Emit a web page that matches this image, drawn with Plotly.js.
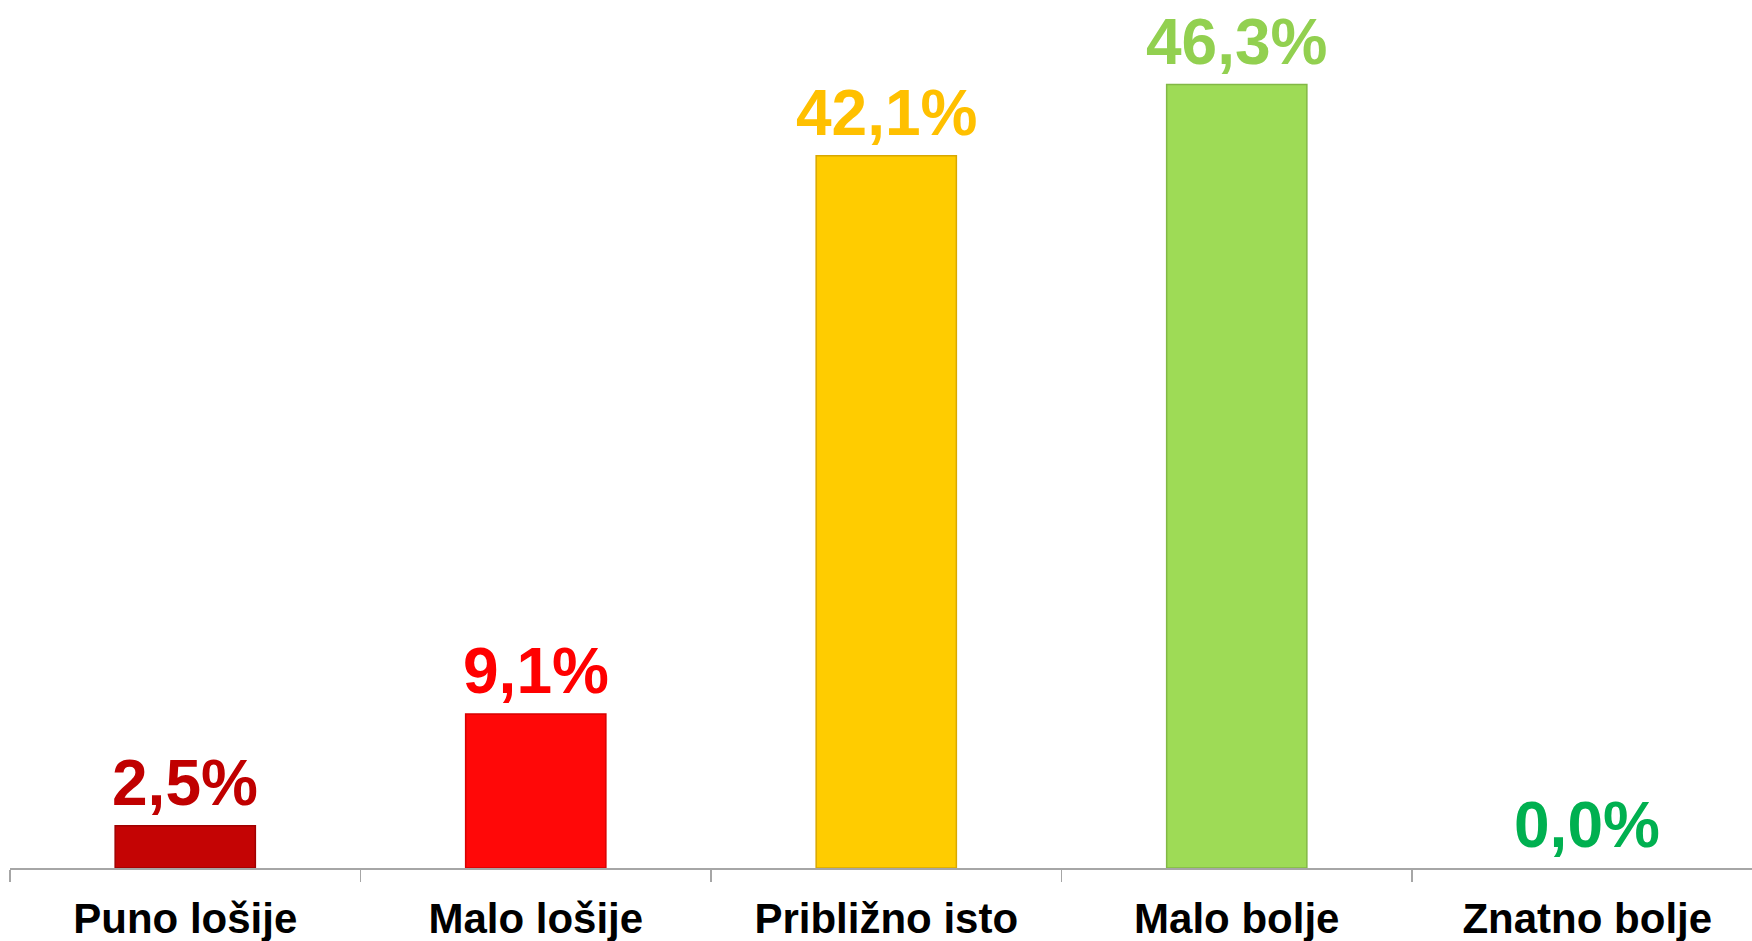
<!DOCTYPE html>
<html>
<head>
<meta charset="utf-8">
<script src="https://cdn.plot.ly/plotly-3.0.1.min.js"></script>
<style>
  html, body { margin: 0; padding: 0; background: #ffffff; }
  #chart { width: 1752px; height: 941px; }
</style>
</head>
<body>
<div id="chart"></div>
<script>
const categories = ['Puno lošije', 'Malo lošije', 'Približno isto', 'Malo bolje', 'Znatno bolje'];
const values = [2.5, 9.1, 42.1, 46.3, 0.0];
const barColors = ['#c40404', '#ff0808', '#ffcc00', '#9edb56', '#00b050'];
const barLineColors = ['#a00000', '#d80000', '#d9a800', '#82b845', 'rgba(0,0,0,0)'];
const labelColors = ['#c00000', '#ff0000', '#ffc000', '#92d050', '#00b050'];

const fmt = v => v.toFixed(1).replace('.', ',') + '%';

const trace = {
  type: 'bar',
  x: categories,
  y: values,
  width: 0.4,
  marker: { color: barColors, line: { color: barLineColors, width: 1.5 } },
  hoverinfo: 'x+y'
};

const annotations = categories.map((c, i) => ({
  x: c,
  y: values[i],
  xref: 'x',
  yref: 'y',
  text: fmt(values[i]),
  showarrow: false,
  yanchor: 'bottom',
  yshift: 5,
  font: { family: 'Liberation Sans, Arial, sans-serif', size: 64, color: labelColors[i], weight: 'bold' }
}));

const layout = {
  width: 1752,
  height: 941,
  margin: { l: 10, r: 0, t: 0, b: 73 },
  paper_bgcolor: '#ffffff',
  plot_bgcolor: '#ffffff',
  showlegend: false,
  bargap: 0.6,
  xaxis: {
    type: 'category',
    range: [-0.5, 4.47],
    showline: true,
    linecolor: '#a6a6a6',
    linewidth: 2,
    ticks: 'outside',
    tickson: 'boundaries',
    ticklen: 12,
    tickwidth: 1.5,
    tickcolor: '#a6a6a6',
    ticklabelstandoff: 13,
    showgrid: false,
    zeroline: false,
    tickfont: { family: 'Liberation Sans, Arial, sans-serif', size: 42, color: '#000000', weight: 'bold' },
    fixedrange: true
  },
  yaxis: {
    range: [0, 51.3],
    visible: false,
    showgrid: false,
    zeroline: false,
    fixedrange: true
  },
  annotations: annotations
};

Plotly.newPlot('chart', [trace], layout, { displayModeBar: false, staticPlot: true });
</script>
</body>
</html>
